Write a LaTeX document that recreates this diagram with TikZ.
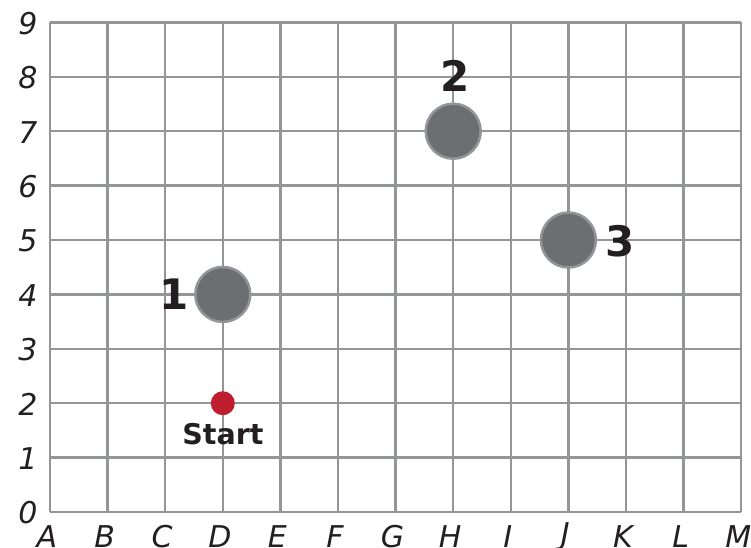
\documentclass[tikz,border=0pt]{standalone}
\usepackage{fontspec}
\setmainfont{DejaVu Sans}
\begin{document}
\begin{tikzpicture}[x=1pt,y=-1pt,
  gridline/.style={draw=gridgray,line width=2.4pt},
  axislbl/.style={font=\fontsize{30}{32}\selectfont\itshape,text=ink,inner sep=0pt},
  numlbl/.style={font=\fontsize{42}{46}\selectfont\bfseries,text=ink,inner sep=0pt},
  target/.style={circle,fill=dotgray,draw=gridgray,line width=2.5pt,minimum size=55pt,inner sep=0pt},
  startdot/.style={circle,fill=startred,minimum size=24pt,inner sep=0pt}]
\definecolor{gridgray}{HTML}{939598}
\definecolor{dotgray}{HTML}{6D6E71}
\definecolor{ink}{HTML}{231F20}
\definecolor{startred}{HTML}{BE1E2D}
\useasboundingbox (0,0) rectangle (751,547);
\def\gx{50}\def\gy{512}\def\dx{57.6}\def\dy{54.4}
% grid
\foreach \i in {0,...,12} \draw[gridline] ({\gx+\i*\dx},{\gy}) -- ({\gx+\i*\dx},{\gy-9*\dy});
\foreach \j in {0,...,9} \draw[gridline] ({\gx},{\gy-\j*\dy}) -- ({\gx+12*\dx},{\gy-\j*\dy});
% axis labels
\foreach \L [count=\i from 0] in {A,B,C,D,E,F,G,H,I,J,K,L,M}
  \node[axislbl] (col\L) at ({\gx+\i*\dx-3},537) {\L};
\foreach \j in {0,...,9}
  \node[axislbl] (row\j) at (28,{\gy-\j*\dy+1}) {\j};
% points
\node[target] (p1) at ({\gx+3*\dx},{\gy-4*\dy}) {};
\node[target] (p2) at ({\gx+7*\dx},{\gy-7*\dy}) {};
\node[target] (p3) at ({\gx+9*\dx},{\gy-5*\dy}) {};
\node[startdot] (s) at ({\gx+3*\dx},{\gy-2*\dy}) {};
\node[numlbl] (l1) at (174,294) {1};
\node[numlbl] (l2) at (455,76) {2};
\node[numlbl] (l3) at (620,241) {3};
\node[font=\fontsize{28.5}{30}\selectfont\bfseries,text=ink,inner sep=0pt] (st) at (223,434) {Start};
\end{tikzpicture}
\end{document}
